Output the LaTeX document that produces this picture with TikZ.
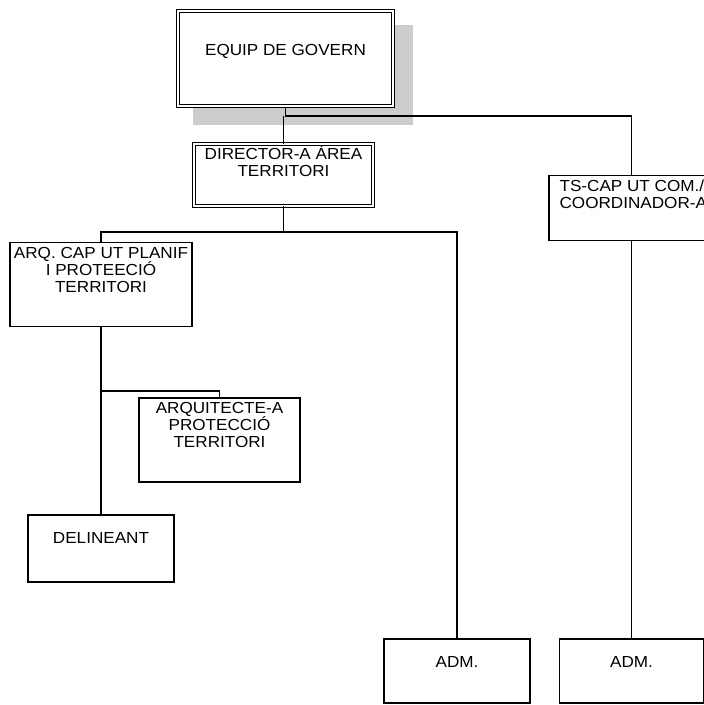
\documentclass[tikz,border=0pt]{standalone}
\usepackage{fontspec}
\setmainfont{Liberation Sans}[FakeStretch=1.07]
\usetikzlibrary{positioning}
\definecolor{shadowgray}{RGB}{204,204,204}

\begin{document}
\begin{tikzpicture}[
  x=1pt, y=-1pt,
  font=\fontsize{16}{17}\selectfont,
  line width=1.3pt,
  unit/.style={
    draw,
    fill=white,
    inner sep=0pt
  },
  head/.style={
    unit,
    double,
    double distance=1.6pt
  },
  txt/.style={
    inner sep=0pt,
    align=center,
    execute at begin node={\rule{0pt}{15pt}}
  }
]
\useasboundingbox (0,0) rectangle (704,705);
\clip (0,0) rectangle (704,705);
% shadow behind the top box
\fill[shadowgray] (193,25) rectangle (413,125);
\node[head,minimum width=215pt,minimum height=95pt] (gov) at (285.5,58.5) {};
\node[txt,below=29pt of gov.north] (gov-t) {EQUIP DE GOVERN};
\node[head,minimum width=178.6pt,minimum height=61.6pt] (dir) at (283.5,175) {};
\node[txt,below=1.5pt of dir.north] (dir-t) {DIRECTOR-A ÀREA\\TERRITORI};
\node[unit,minimum width=164.8pt,minimum height=65.5pt] (ts) at (631.5,208) {};
\node[txt,align=left,below right=5pt and 10.5pt of ts.north west] (ts-t) {TS-CAP UT COM./\\COORDINADOR-A};
\node[unit,minimum width=182pt,minimum height=84pt] (arq) at (101,284.5) {};
\node[txt,below=4.5pt of arq.north] (arq-t) {ARQ. CAP UT PLANIF\\I PROTEECIÓ\\TERRITORI};
\node[unit,minimum width=161pt,minimum height=84pt] (arqt) at (219.5,440) {};
\node[txt,below=4pt of arqt.north] (arqt-t) {ARQUITECTE-A\\PROTECCIÓ\\TERRITORI};
\node[unit,minimum width=146pt,minimum height=67pt] (del) at (101,548.5) {};
\node[txt,below=13pt of del.north] (del-t) {DELINEANT};
\node[unit,minimum width=146pt,minimum height=64pt] (adm1) at (457,671) {};
\node[txt,below=13pt of adm1.north] (adm1-t) {ADM.};
\node[unit,minimum width=144pt,minimum height=64pt] (adm2) at (631.5,671) {};
\node[txt,below=13pt of adm2.north] (adm2-t) {ADM.};
% connectors
\coordinate (bus1) at (631.5,116);
\coordinate (bus2) at (101,232);
\coordinate (bus3) at (101,391);
\draw (gov.south) |- (bus1) -- (ts.north);
\draw (dir.north) -- (dir.north |- bus1);
\draw (dir.south) -- (dir.south |- bus2);
\draw (arq.north) -- (bus2) -| (adm1.north);
\draw (arq.south) -- (del.north);
\draw (arqt.north) |- (bus3);
\draw (ts.south) -- (adm2.north);
\end{tikzpicture}
\end{document}
